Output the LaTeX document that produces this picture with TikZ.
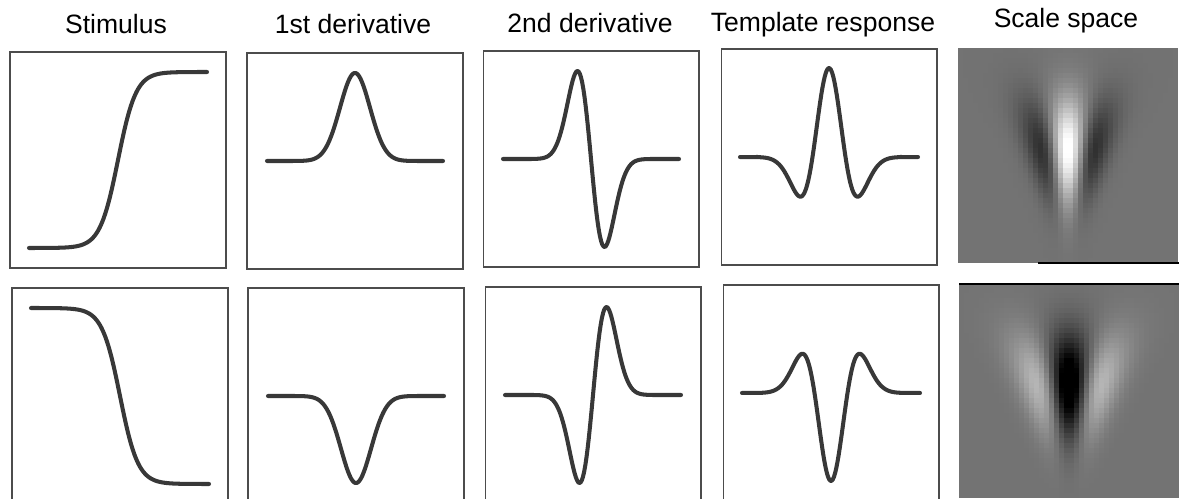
\documentclass[tikz,border=0pt]{standalone}
\usepackage{fontspec}
\setmainfont{Liberation Sans}
\usepackage{tikz}
\tikzset{panel/.style={draw=black!70, line width=0.6pt, minimum width=4.32cm, minimum height=4.32cm, inner sep=0pt},
  curve/.style={line width=2.3pt, black!78, line cap=round, line join=round, samples=150},
  heading/.style={anchor=base, font=\fontsize{15.1}{18}\selectfont}}
% scale space map: #1 left, #2 top, #3 sign of the response, #4 width of the core
\newcommand{\scalemap}[4]{%
  \foreach \i in {0,...,43}{
    \foreach \j in {0,...,42}{
      \pgfmathsetmacro{\u}{(\i+0.5)/22-1}
      \pgfmathsetmacro{\v}{(\j+0.5)/43}
      \pgfmathsetmacro{\t}{min(30,(\u/(#4*exp(-1.5*(\v-0.45))))^2)}
      \pgfmathsetmacro{\w}{max(0,min(100,45+(#3)*58*exp(-((\v-0.47)/0.23)^2)*(1-\t)*exp(-0.5*\t)))}
      \fill[white!\w!black] ({#1+5*\i},{#2+5*\j}) rectangle +(5.4,5.4);
    }}}

\begin{document}
\begin{tikzpicture}[x=0.02cm, y=-0.02cm]
\useasboundingbox (0,0) rectangle (1179,499);
\node[heading] (tstim) at (116,34) {Stimulus};
\node[heading] (tfirst) at (353,34) {1st derivative};
\node[heading] (tsecond) at (590,33) {2nd derivative};
\node[heading] (ttempl) at (823,32) {Template response};
\node[heading] (tscale) at (1066,28) {Scale space};
% upper row
\node[panel] (stimup) at (118,160) {};
\node[panel] (firstup) at (355,161) {};
\node[panel] (secondup) at (591,159) {};
\node[panel] (templup) at (829,157) {};
\draw[curve, shift={(stimup.center)}] plot[domain=-89:89] (\x, {-88*tanh(\x/18)});
\draw[curve, shift={(firstup.center)}] plot[domain=-88:88] (\x, {-88*exp(-\x*\x/450)});
\draw[curve, shift={(secondup.center)}] plot[domain=-88:88] (\x, {88*(\x/13.5)*exp(0.5-\x*\x/364.5)});
\draw[curve, shift={(templup.center)}] plot[domain=-89:89] (\x, {-89*(1-\x*\x/272.25)*exp(-\x*\x/544.5)});
\scalemap{958}{48}{1}{0.15}
\draw[line width=1.2pt] (1038,263) -- (1179,263);
% lower row
\node[panel] (stimdown) at (120,396) {};
\node[panel] (firstdown) at (356,396) {};
\node[panel] (seconddown) at (593,395) {};
\node[panel] (templdown) at (831,393) {};
\draw[curve, shift={(stimdown.center)}] plot[domain=-89:89] (\x, {88*tanh(\x/18)});
\draw[curve, shift={(firstdown.center)}] plot[domain=-88:88] (\x, {87*exp(-\x*\x/450)});
\draw[curve, shift={(seconddown.center)}] plot[domain=-88:88] (\x, {-88*(\x/13.5)*exp(0.5-\x*\x/364.5)});
\draw[curve, shift={(templdown.center)}] plot[domain=-89:89] (\x, {88*(1-\x*\x/272.25)*exp(-\x*\x/544.5)});
\scalemap{959}{283}{-1}{0.18}
\draw[line width=0.8pt] (959,284) -- (1179,284);
\end{tikzpicture}
\end{document}
